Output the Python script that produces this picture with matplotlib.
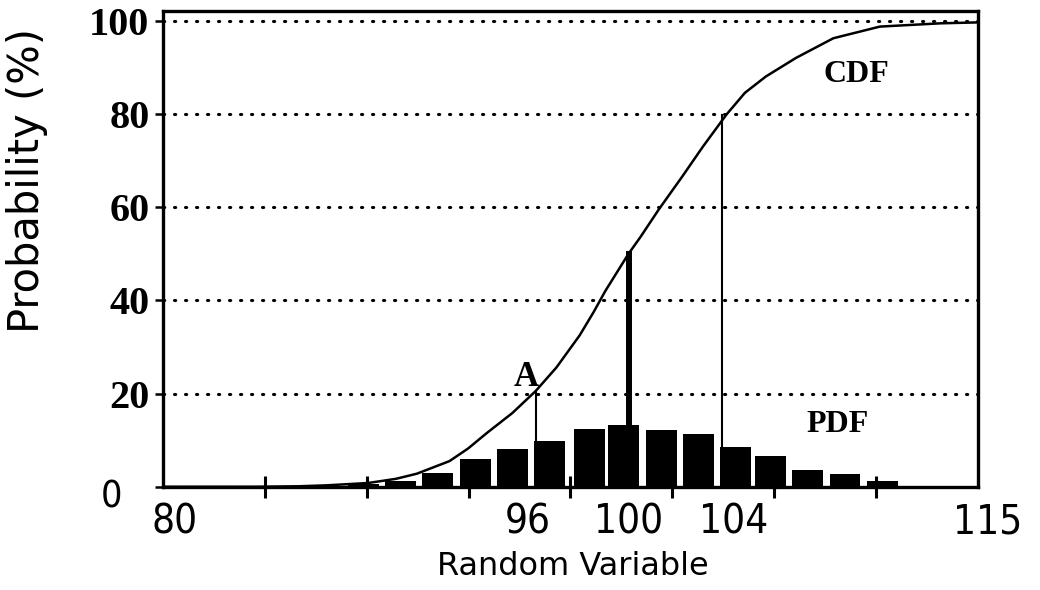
import numpy as np
import matplotlib
matplotlib.use('Agg')
import matplotlib.pyplot as plt
from matplotlib.transforms import ScaledTranslation

# histogram (PDF), %
bin_centers = [88.6, 90.2, 91.8, 93.4, 95.0, 96.6, 98.3, 99.8, 101.4, 103.0, 104.6, 106.1, 107.7, 109.3, 110.9]
pdf_values = [0.6, 1.3, 2.9, 5.9, 8.0, 9.8, 12.3, 13.2, 12.2, 11.3, 8.5, 6.6, 3.6, 2.8, 1.3]

# cumulative curve (CDF), %
cdf_x = [80, 84, 85.8, 87, 88.8, 90.0, 90.9, 92.3, 93.1, 93.9, 95.0, 96.0, 96.9, 97.9, 98.5, 99.0,
         100.0, 100.5, 101.3, 102.3, 103.2, 104.2, 105.0, 105.9, 107.2, 108.8, 110.8, 113.4, 115]
cdf_y = [0, 0, 0.1, 0.3, 0.8, 1.7, 2.8, 5.5, 8.2, 11.5, 15.8, 20.5, 25.6, 32.5, 37.5, 42,
         50, 53.5, 59.5, 66.5, 73, 79.8, 84.5, 88, 92, 96.2, 98.7, 99.4, 99.6]

# marked values on the x axis and their CDF heights
mark_x = [96, 100, 104]
mark_y = [20.5, 50, 79.8]
mark_lw = [1.5, 4.3, 1.5]

x_labels = [80, 96, 100, 104, 115]
y_ticks = [0, 20, 40, 60, 80, 100]

fig = plt.figure(figsize=(10.4, 5.9), dpi=100)
ax = fig.add_axes([0.157, 0.175, 0.783, 0.806])

ax.bar(bin_centers, pdf_values, width=1.33, color='black', zorder=3)
ax.plot(cdf_x, cdf_y, color='black', lw=1.8, solid_joinstyle='round', zorder=4)
for xv, yv, lw in zip(mark_x, mark_y, mark_lw):
    ax.plot([xv, xv], [0, yv], color='black', lw=lw, zorder=5)

ax.set_xlim(80, 115)
ax.set_ylim(0, 102)

# dotted horizontal grid
ax.grid(axis='y', color='black', linestyle=(0, (0.4, 3.2)), linewidth=2.2,
        dash_capstyle='round', zorder=1)
ax.set_axisbelow(True)

for sp in ax.spines.values():
    sp.set_linewidth(2.4)
    sp.set_zorder(6)

ax.set_yticks(y_ticks)
ax.set_yticklabels([str(v) for v in y_ticks], family='Liberation Serif',
                   fontweight='bold', fontsize=29)
ax.tick_params(axis='y', direction='out', length=6, width=1.8, pad=4)

# the zero label sits apart, in the plain font
zero = ax.get_yticklabels()[0]
zero.set_family('DejaVu Sans')
zero.set_fontweight('normal')
zero.set_fontsize(27)
zero.set_fontstretch('condensed')
zero.set_transform(zero.get_transform() + ScaledTranslation(-0.27, -0.07, fig.dpi_scale_trans))

ax.set_xticks(x_labels)
ax.set_xticklabels([str(v) for v in x_labels], family='DejaVu Sans',
                   fontstretch='condensed', fontsize=29)
ax.set_xticks(np.linspace(80, 115, 9), minor=True)
ax.tick_params(axis='x', which='major', length=0, pad=11)
ax.tick_params(axis='x', which='minor', direction='inout', length=16, width=2.2)

# small horizontal nudges of the x labels, as printed
nudges = [0.11, -0.08, 0.0, 0.12, 0.10]
for lab, dx in zip(ax.get_xticklabels(), nudges):
    lab.set_transform(lab.get_transform() + ScaledTranslation(dx, 0, fig.dpi_scale_trans))

ax.set_xlabel('Random Variable', family='DejaVu Sans', fontsize=23)
ax.xaxis.set_label_coords(0.503, -0.135)
ax.set_ylabel('Probability (%)', family='DejaVu Sans', fontsize=30)
ax.yaxis.set_label_coords(-0.142, 0.645)

ax.text(109.8, 88.4, 'CDF', family='Liberation Serif', fontweight='bold', fontsize=23,
        ha='center', va='center')
ax.text(109.0, 13.3, 'PDF', family='Liberation Serif', fontweight='bold', fontsize=23,
        ha='center', va='center')
ax.text(95.6, 23.5, 'A', family='Liberation Serif', fontweight='bold', fontsize=25,
        ha='center', va='center')

fig.savefig('out.png', dpi=100)
